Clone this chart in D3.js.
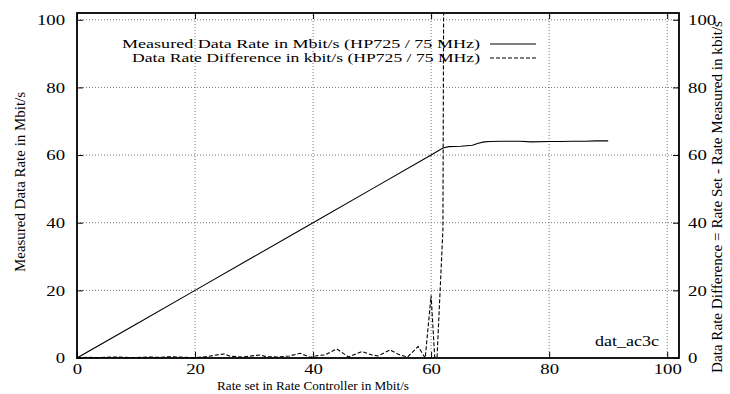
<!DOCTYPE html>
<html>
<head>
<meta charset="utf-8">
<script src="https://cdn.jsdelivr.net/npm/d3@7"></script>
<style>
  html, body { margin: 0; padding: 0; background: #fff; }
  svg { display: block; }
  svg text { font-family: "Liberation Serif", "Times New Roman", Times, "Tinos", "Noto Serif", "DejaVu Serif", serif !important; fill: #000; }
</style>
</head>
<body>
<svg id="chart" width="730" height="394"></svg>
<script>
// Rate set in the controller (Mbit/s) vs. measured rate (Mbit/s)
const rateSet  = [0, 10, 20, 30, 40, 50, 60, 62, 63, 65, 67, 68, 69, 70, 72, 75, 77, 80, 82, 84, 86, 88, 90];
const measured = [0, 10, 20, 30, 40, 50, 60, 62.1, 62.5, 62.6, 62.9, 63.5, 63.9, 64.0, 64.1, 64.1, 63.9, 64.0, 64.0, 64.1, 64.1, 64.2, 64.2];

// Difference between set and measured rate (kbit/s)
const diffRate = [0, 2, 4, 6, 8, 10, 12, 14, 16, 18, 20, 22, 24, 25, 26, 28, 30, 31, 32, 34, 36, 37.8, 39.5, 41, 42, 44, 46, 48.3, 50, 51, 53, 54.7, 56, 57.8, 59, 60, 60.6, 61, 62, 63, 64];
const diffKbit = [0.1, 0.2, 0.1, 0.3, 0.2, 0.1, 0.3, 0.2, 0.4, 0.2, 0.1, 0.4, 1.0, 1.2, 0.5, 0.3, 0.7, 0.9, 0.4, 0.3, 0.6, 1.4, 0.2, 0.8, 0.9, 2.7, 0.3, 1.9, 0.9, 0.6, 2.4, 0.9, 0.3, 3.4, 0.0, 18.5, 0.3, 0.0, 38, 600, 1400];

const ticks = [0, 20, 40, 60, 80, 100];
const legendLabels = [
  "Measured Data Rate in Mbit/s (HP725 / 75 MHz)",
  "Data Rate Difference in kbit/s (HP725 / 75 MHz)"
];
const xTitle = "Rate set in Rate Controller in Mbit/s";
const yTitle = "Measured Data Rate in Mbit/s";
const y2Title = "Data Rate Difference = Rate Set - Rate Measured in kbit/s";
const tag = "dat_ac3c";

const svg = d3.select("#chart");
const x = d3.scaleLinear().domain([0, 102]).range([77, 679]);
const y = d3.scaleLinear().domain([0, 102]).range([358, 13]);
const y2 = d3.scaleLinear().domain([0, 102]).range([358, 13]);

const FS = 14;        // base font size
const STRETCH = 1.25; // horizontal glyph stretch for tick numbers

function stretch(sel, factor) {
  sel.each(function () {
    const w = this.getComputedTextLength();
    d3.select(this).attr("textLength", w * factor).attr("lengthAdjust", "spacingAndGlyphs");
  });
}
function fitWidth(sel, width) {
  sel.attr("textLength", width).attr("lengthAdjust", "spacingAndGlyphs");
}

// grid
const grid = svg.append("g").attr("stroke", "#777").attr("stroke-width", 1).attr("stroke-dasharray", "1,2");
grid.selectAll("line.gx").data(ticks.filter(d => d > 0)).join("line")
  .attr("x1", d => x(d)).attr("x2", d => x(d)).attr("y1", y(0)).attr("y2", y(102));
grid.selectAll("line.gy").data(ticks.filter(d => d > 0)).join("line")
  .attr("x1", x(0)).attr("x2", x(102)).attr("y1", d => y(d)).attr("y2", d => y(d));

// axes (ticks pointing inward on all four sides)
const tk = 6;
function cleanAxis(g) {
  g.attr("font-family", null);
  g.select(".domain").remove();
  g.selectAll(".tick line").attr("stroke", "#000");
}
const axB = svg.append("g").attr("transform", `translate(0,${y(0)})`)
  .call(d3.axisBottom(x).tickValues(ticks).tickSizeInner(-tk).tickSizeOuter(0).tickPadding(5).tickFormat(d3.format("d")))
  .call(cleanAxis);
svg.append("g").attr("transform", `translate(0,${y(102)})`)
  .call(d3.axisTop(x).tickValues(ticks).tickSizeInner(-tk).tickSizeOuter(0).tickFormat(""))
  .call(cleanAxis);
const axL = svg.append("g").attr("transform", `translate(${x(0)},0)`)
  .call(d3.axisLeft(y).tickValues(ticks).tickSizeInner(-tk).tickSizeOuter(0).tickPadding(12).tickFormat(d3.format("d")))
  .call(cleanAxis);
const axR = svg.append("g").attr("transform", `translate(${x(102)},0)`)
  .call(d3.axisRight(y2).tickValues(ticks).tickSizeInner(-tk).tickSizeOuter(0).tickPadding(9).tickFormat(d3.format("d")))
  .call(cleanAxis);
[axB, axL, axR].forEach(g => {
  g.selectAll(".tick text").attr("font-size", FS + 1).attr("fill", "#000");
  stretch(g.selectAll(".tick text"), STRETCH);
});

// clip region
svg.append("clipPath").attr("id", "plotClip").append("rect")
  .attr("x", x(0)).attr("y", y(102)).attr("width", x(102) - x(0)).attr("height", y(0) - y(102));

const plot = svg.append("g").attr("clip-path", "url(#plotClip)");

const lineMeasured = d3.line().x((d, i) => x(rateSet[i])).y(d => y(d));
plot.append("path").datum(measured)
  .attr("d", lineMeasured).attr("fill", "none").attr("stroke", "#000").attr("stroke-width", 1.1);

const lineDiff = d3.line().x((d, i) => x(diffRate[i])).y(d => y2(d));
plot.append("path").datum(diffKbit)
  .attr("d", lineDiff).attr("fill", "none").attr("stroke", "#000").attr("stroke-width", 1.1)
  .attr("stroke-dasharray", "4,2");

// border
svg.append("rect").attr("x", x(0)).attr("y", y(102)).attr("width", x(102) - x(0)).attr("height", y(0) - y(102))
  .attr("fill", "none").attr("stroke", "#000").attr("stroke-width", 1.8);

// legend
const legend = svg.append("g");
const rows = [{ label: legendLabels[0], dash: null, ty: 48, ly: 44, w: 358 },
              { label: legendLabels[1], dash: "4,2", ty: 62, ly: 58, w: 348 }];
rows.forEach(r => {
  const t = legend.append("text").attr("x", 480 - r.w).attr("y", r.ty)
    .attr("font-size", FS - 1).text(r.label);
  fitWidth(t, r.w);
  legend.append("line").attr("x1", 490).attr("x2", 536).attr("y1", r.ly).attr("y2", r.ly)
    .attr("stroke", "#000").attr("stroke-width", 1.1).attr("stroke-dasharray", r.dash);
});

// data tag
const tg = svg.append("text").attr("x", 595).attr("y", 346).attr("font-size", FS + 1).text(tag);
fitWidth(tg, 64);

// axis titles (start-anchored so the fitted length spans exactly)
const xt = svg.append("text").attr("x", 217).attr("y", 390).attr("font-size", FS - 1).text(xTitle);
fitWidth(xt, 192);
const yt = svg.append("text").attr("transform", "translate(25,272) rotate(-90)")
  .attr("font-size", FS).text(yTitle);
fitWidth(yt, 180);
const y2t = svg.append("text").attr("transform", "translate(722,373) rotate(-90)")
  .attr("font-size", FS).text(y2Title);
fitWidth(y2t, 352);
</script>
</body>
</html>
